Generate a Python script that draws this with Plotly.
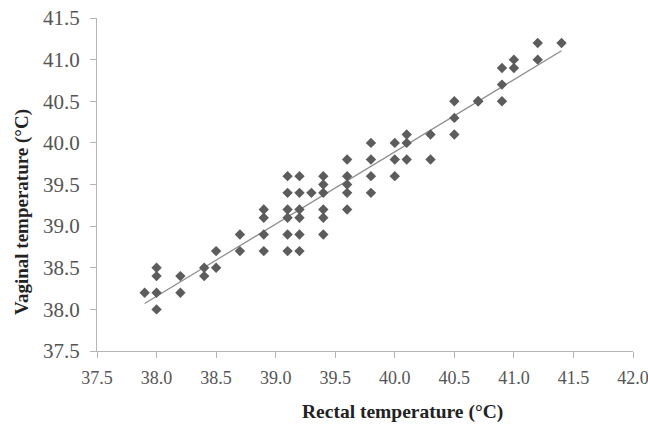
import numpy as np
import plotly.graph_objects as go

rectal = [37.9,
          38.0, 38.0, 38.0, 38.0,
          38.2, 38.2,
          38.4, 38.4,
          38.5, 38.5,
          38.7, 38.7,
          38.9, 38.9, 38.9, 38.9,
          39.1, 39.1, 39.1, 39.1, 39.1, 39.1,
          39.2, 39.2, 39.2, 39.2, 39.2, 39.2,
          39.3,
          39.4, 39.4, 39.4, 39.4, 39.4, 39.4,
          39.6, 39.6, 39.6, 39.6, 39.6,
          39.8, 39.8, 39.8, 39.8,
          40.0, 40.0, 40.0,
          40.1, 40.1, 40.1,
          40.3, 40.3,
          40.5, 40.5, 40.5,
          40.7, 40.7,
          40.9, 40.9, 40.9,
          41.0, 41.0,
          41.2, 41.2,
          41.4]
vaginal = [38.2,
           38.5, 38.4, 38.2, 38.0,
           38.4, 38.2,
           38.5, 38.4,
           38.7, 38.5,
           38.9, 38.7,
           39.2, 39.1, 38.9, 38.7,
           39.6, 39.4, 39.2, 39.1, 38.9, 38.7,
           39.6, 39.4, 39.2, 39.1, 38.9, 38.7,
           39.4,
           39.6, 39.5, 39.4, 39.2, 39.1, 38.9,
           39.8, 39.6, 39.5, 39.4, 39.2,
           40.0, 39.8, 39.6, 39.4,
           40.0, 39.8, 39.6,
           40.1, 40.0, 39.8,
           40.1, 39.8,
           40.5, 40.3, 40.1,
           40.5, 40.5,
           40.9, 40.7, 40.5,
           41.0, 40.9,
           41.2, 41.0,
           41.2]

x_ticks = [37.5, 38.0, 38.5, 39.0, 39.5, 40.0, 40.5, 41.0, 41.5, 42.0]
y_ticks = [37.5, 38.0, 38.5, 39.0, 39.5, 40.0, 40.5, 41.0, 41.5]

slope, intercept = np.polyfit(rectal, vaginal, 1)
fit_x = [min(rectal), max(rectal)]
fit_y = [slope * v + intercept for v in fit_x]

serif = "Times New Roman"

fig = go.Figure()
fig.add_trace(go.Scatter(x=fit_x, y=fit_y, mode="lines",
                         line=dict(color="#8a8a8a", width=1.2),
                         showlegend=False, hoverinfo="skip"))
fig.add_trace(go.Scatter(x=rectal, y=vaginal, mode="markers",
                         marker=dict(symbol="diamond", size=8, color="#5c5c5c",
                                     line=dict(width=0)),
                         showlegend=False))

fig.update_layout(
    width=648, height=435,
    font=dict(family=serif),
    margin=dict(l=97, r=15, t=18, b=84),
    plot_bgcolor="white", paper_bgcolor="white",
    xaxis=dict(range=[37.5, 42.0], tickvals=x_ticks,
               ticktext=[f"{v:.1f}" for v in x_ticks],
               showgrid=False, zeroline=False, showline=True, automargin=False,
               linecolor="#b5b5b5", linewidth=1.2,
               ticks="outside", ticklen=6, tickcolor="#b5b5b5",
               tickfont=dict(family=serif, size=18, color="#555555"),
               ticklabeloverflow="allow", ticklabelstandoff=4),
    yaxis=dict(range=[37.5, 41.5], tickvals=y_ticks,
               ticktext=[f"{v:.1f}" for v in y_ticks],
               showgrid=False, zeroline=False, showline=True, automargin=False,
               linecolor="#b5b5b5", linewidth=1.2,
               ticks="outside", ticklen=6, tickcolor="#b5b5b5",
               tickfont=dict(family=serif, size=21, color="#555555"),
               ticklabeloverflow="allow", ticklabelstandoff=6),
    annotations=[
        dict(text="<b>Rectal temperature (°C)</b>", xref="paper", yref="paper",
             x=(402 - 97) / (648 - 97 - 15), y=-(412 - 351) / (435 - 18 - 84),
             xanchor="center", yanchor="middle", showarrow=False,
             font=dict(family=serif, size=19.5, color="#222222")),
        dict(text="<b>Vaginal temperature (°C)</b>", xref="paper", yref="paper",
             x=-(97 - 22) / (648 - 97 - 15), y=(351 - 212) / (435 - 18 - 84),
             xanchor="center", yanchor="middle", textangle=-90, showarrow=False,
             font=dict(family=serif, size=19, color="#222222")),
    ],
)

fig.write_html("out.html",
               config={"displayModeBar": False},
               post_script="document.body.style.margin='0px';document.body.style.overflow='hidden';")
